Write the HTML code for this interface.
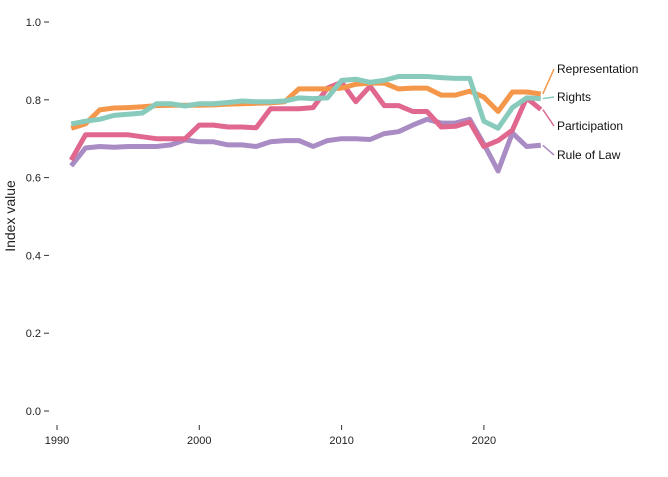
<!DOCTYPE html>
<html><head><meta charset="utf-8"><style>
body{margin:0;background:#fff;font-family:"Liberation Sans",sans-serif}
text{font-family:"Liberation Sans",sans-serif}
</style></head><body>
<svg id="chart" width="668" height="472" xmlns="http://www.w3.org/2000/svg"></svg>
<script>
const years=[];for(let y=1991;y<=2024;y++)years.push(y);
const seriesNames=["Representation","Rights","Participation","Rule of Law"];
const representation=[0.727,0.738,0.774,0.779,0.780,0.782,0.785,0.786,0.786,0.786,0.787,0.789,0.790,0.791,0.792,0.795,0.828,0.828,0.828,0.830,0.840,0.843,0.843,0.828,0.830,0.830,0.812,0.812,0.822,0.807,0.770,0.820,0.820,0.815];
const rights=[0.738,0.745,0.750,0.760,0.763,0.766,0.790,0.790,0.784,0.790,0.790,0.793,0.797,0.795,0.795,0.797,0.805,0.803,0.805,0.850,0.853,0.845,0.850,0.860,0.860,0.860,0.857,0.855,0.855,0.745,0.727,0.780,0.805,0.803];
const participation=[0.645,0.710,0.710,0.710,0.710,0.705,0.700,0.700,0.700,0.735,0.735,0.730,0.730,0.728,0.777,0.777,0.777,0.780,0.830,0.845,0.795,0.835,0.785,0.785,0.770,0.770,0.730,0.732,0.743,0.680,0.695,0.722,0.805,0.775];
const ruleOfLaw=[0.630,0.676,0.680,0.678,0.680,0.680,0.680,0.684,0.697,0.692,0.692,0.684,0.684,0.680,0.692,0.695,0.695,0.680,0.695,0.700,0.700,0.698,0.713,0.718,0.735,0.750,0.740,0.740,0.750,0.686,0.617,0.715,0.680,0.683];
const colors=["#f4974a","#88cbbd","#e0688e","#a98cc4"];
const yTicks=[0,0.2,0.4,0.6,0.8,1.0];
const xTicks=[1990,2000,2010,2020];
const labelY=[73,101,130,159];
const NS="http://www.w3.org/2000/svg";
const svg=document.getElementById("chart");
const xS=yr=>57+(yr-1990)*14.23;
const yS=v=>411-v*389;
function mk(t,a){const e=document.createElementNS(NS,t);for(const k in a)e.setAttribute(k,a[k]);svg.appendChild(e);return e;}
yTicks.forEach(t=>{
 const l=mk("line",{x1:44,x2:49,y1:yS(t),y2:yS(t),stroke:"#333","stroke-width":1});
 
 
 const tx=mk("text",{x:41,y:yS(t)+4,"text-anchor":"end","font-size":11,fill:"#222"});
 tx.textContent=t.toFixed(1);
 
 
});
xTicks.forEach(t=>{
 const l=mk("line",{x1:xS(t),x2:xS(t),y1:425,y2:430,stroke:"#333","stroke-width":1});
 
 
 const tx=mk("text",{x:xS(t),y:444,"text-anchor":"middle","font-size":11,fill:"#222"});
 tx.textContent=t;
 
 
});
const yt=mk("text",{x:15,y:216,"text-anchor":"middle","font-size":14,fill:"#222",transform:"rotate(-90 15 216)"});
yt.textContent="Index value";


const all=[representation,rights,participation,ruleOfLaw];
[3,2,0,1].forEach(i=>{
 const d=all[i].map((v,j)=>(j?"L":"M")+xS(years[j]).toFixed(1)+","+yS(v).toFixed(1)).join("");
 const p=mk("path",{d:d,fill:"none",stroke:colors[i],"stroke-width":5,"stroke-linejoin":"round"});
 
 
});
seriesNames.forEach((n,i)=>{
 const last=all[i][all[i].length-1];
 const ex=xS(2024)+2;
 const l=mk("line",{x1:ex,y1:yS(last),x2:554,y2:labelY[i]-4,stroke:colors[i],"stroke-width":1.5});
 
 
 const t=mk("text",{x:557,y:labelY[i],"font-size":12,fill:"#111"});
 t.textContent=n;
 
 
});
</script>
</body></html>
